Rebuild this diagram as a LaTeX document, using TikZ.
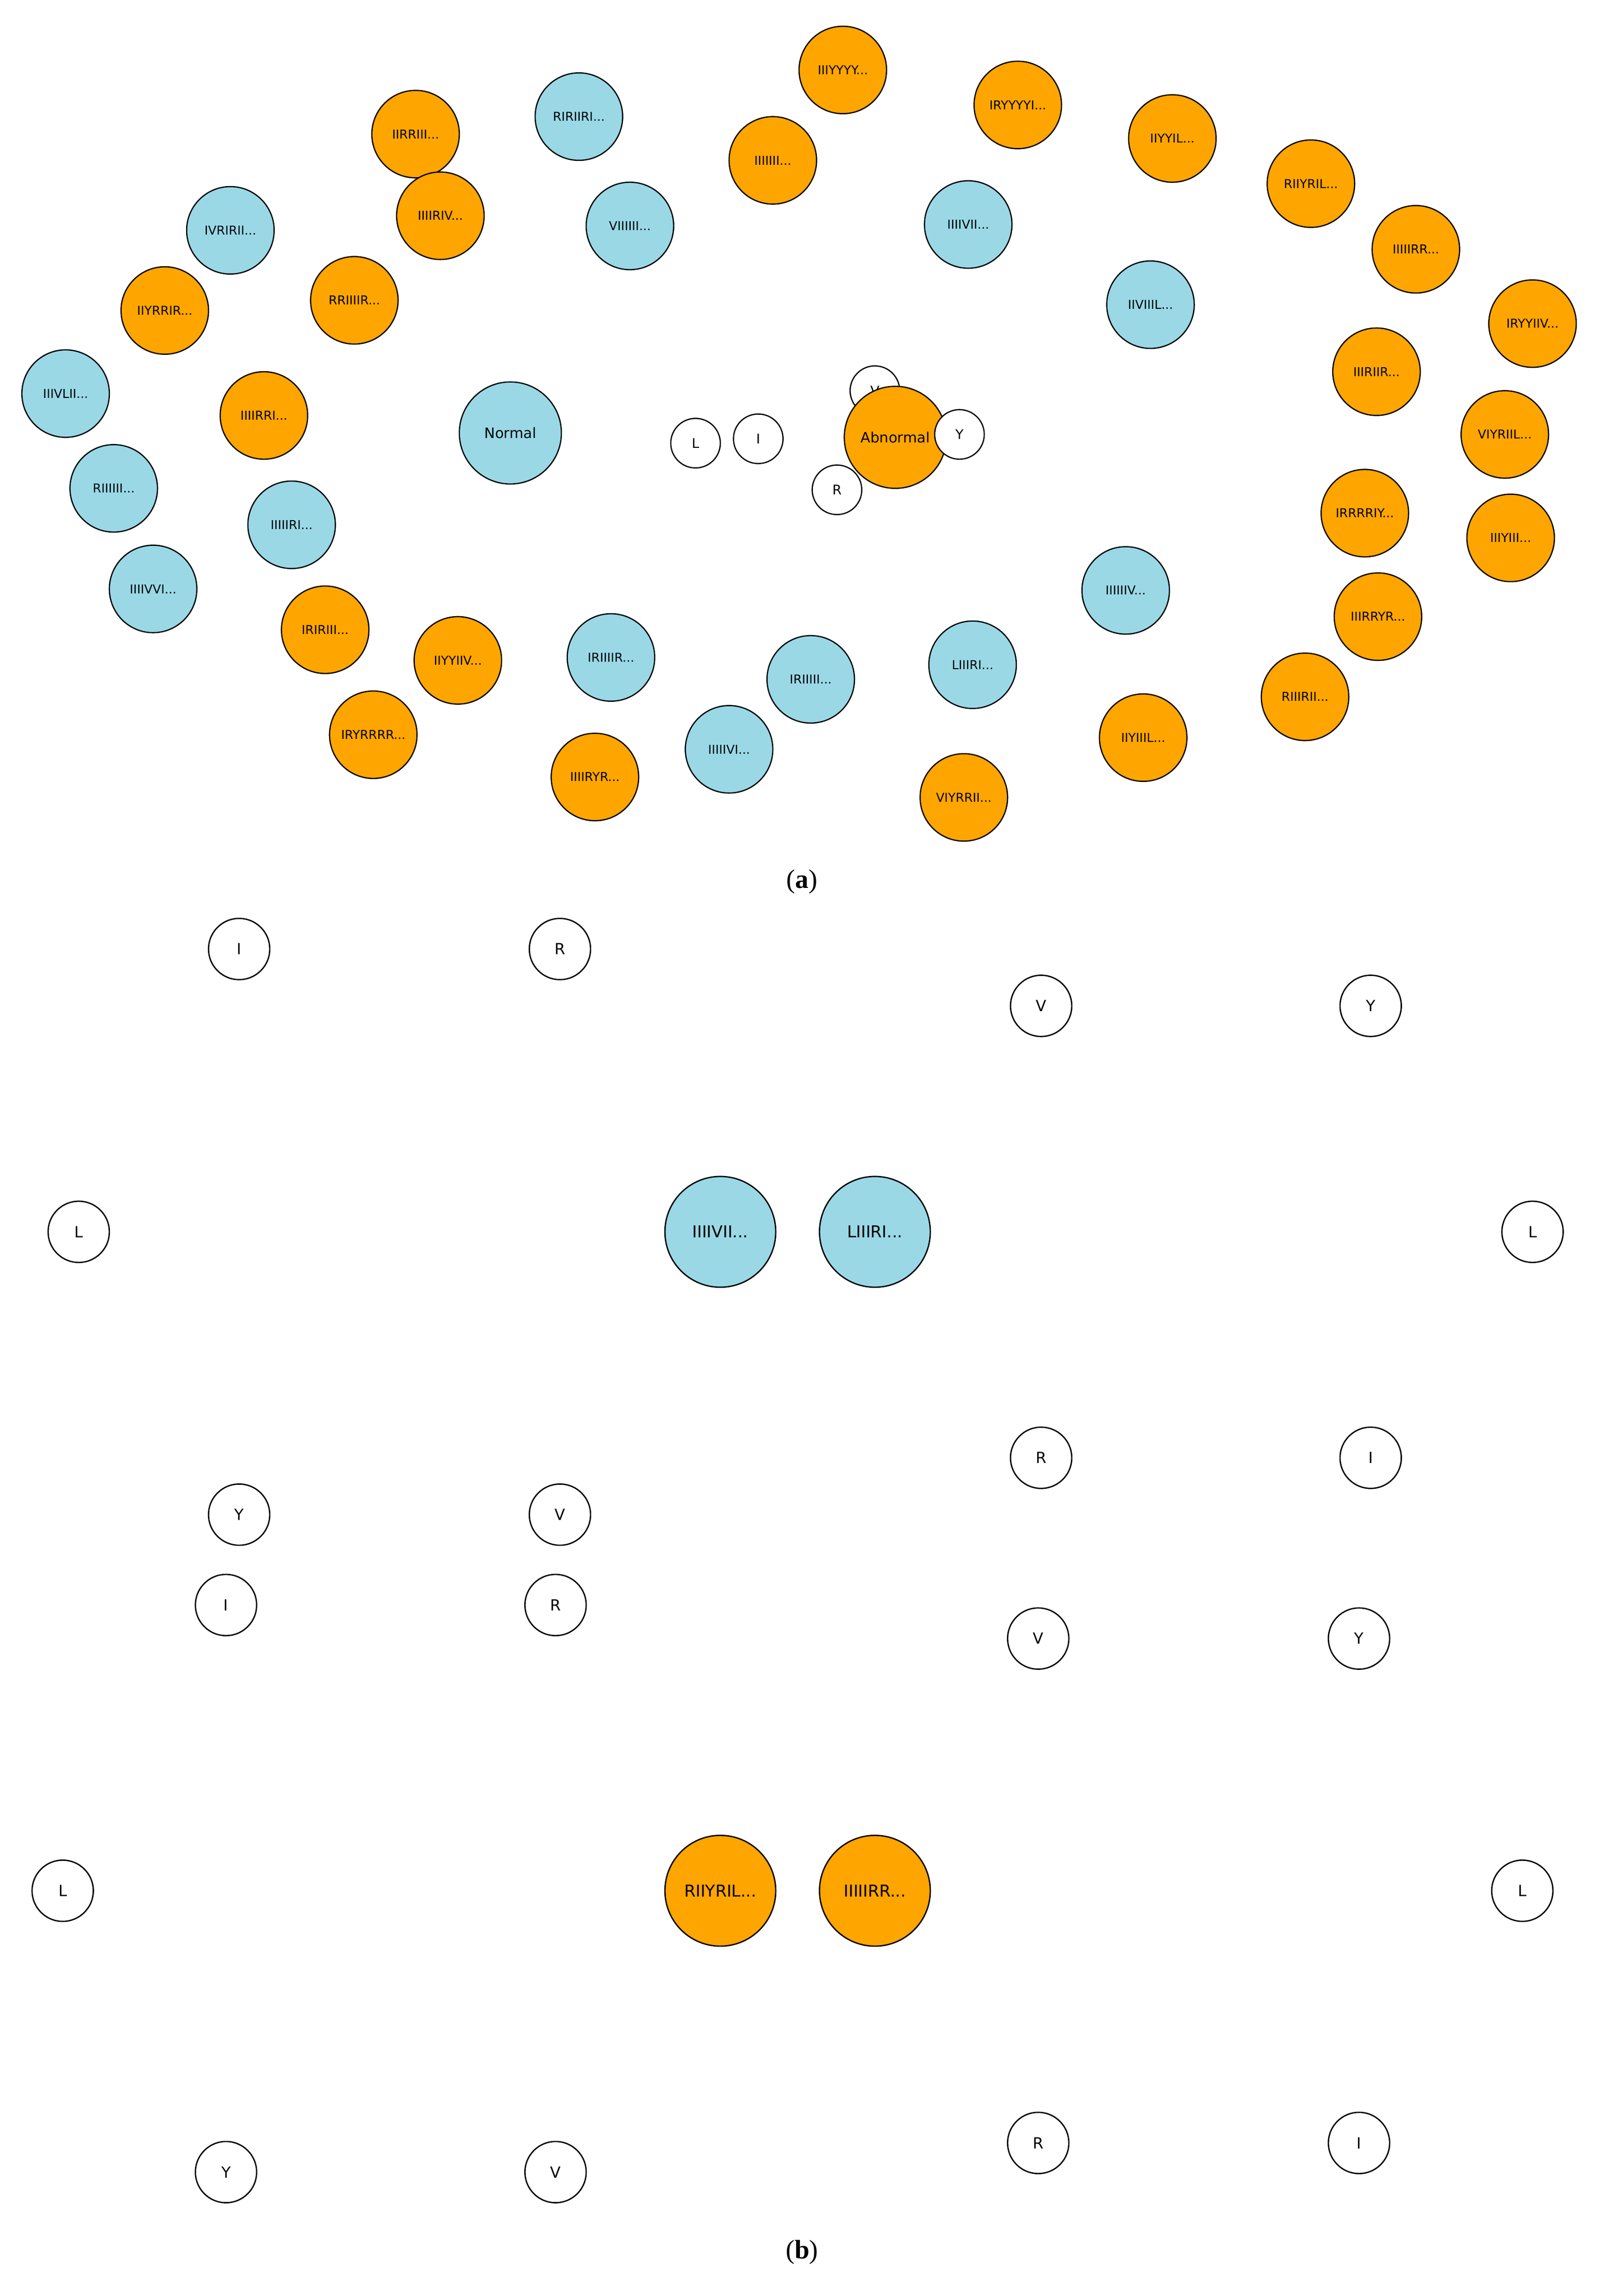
\documentclass[tikz,border=0pt]{standalone}
\usepackage{fontspec}
\setmainfont{DejaVu Sans}
\newfontfamily\capfont{Liberation Serif}
\usetikzlibrary{backgrounds}
\definecolor{nb}{HTML}{9AD8E6}
\definecolor{no}{HTML}{FFA500}
\newcommand\el{...}
\begin{document}
\begin{tikzpicture}[x=0.05cm,y=-0.05cm,
  per/.style={circle,draw,line width=1.2pt,minimum size=3cm,inner sep=0pt,font=\fontsize{12pt}{14pt}\selectfont},
  big/.style={circle,draw,line width=1.2pt,minimum size=3.5cm,inner sep=0pt,font=\fontsize{14pt}{16pt}\selectfont},
  hub/.style={circle,draw,fill=white,line width=1.2pt,minimum size=1.7cm,inner sep=0pt,font=\fontsize{13pt}{15pt}\selectfont},
  ctr/.style={circle,draw,line width=1.3pt,minimum size=3.8cm,inner sep=0pt,font=\fontsize{16pt}{18pt}\selectfont},
  sat/.style={circle,draw,fill=white,line width=1.3pt,minimum size=2.1cm,inner sep=0pt,font=\fontsize{15pt}{17pt}\selectfont},
  elab/.style={fill=white,inner sep=2pt,sloped,font=\fontsize{15pt}{17pt}\selectfont},
  captxt/.style={font=\capfont\fontsize{26pt}{30pt}\selectfont}]
\useasboundingbox (0,0) rectangle (1100,1575);
\fill[white] (0,0) rectangle (1100,1575);
% ---------------- (a) ----------------
\foreach \n/\x/\y/\t/\c/\a/\b/\v/\w/\r in {
 o1/285/92/IIRRIII\el/no/1.2/4/1.2/2/3,
 o2/302/148/IIIIRIV\el/no/1.5/5/1.2/3/2,
 o3/113/213/IIYRRIR\el/no/2/5/1.2/3/2,
 o4/243/206/RRIIIIR\el/no/2/6/1.2/3/2,
 o5/181/285/IIIIRRI\el/no/3/7/1.5/3/2,
 o6/223/432/IRIRIII\el/no/1.2/4/1.2/2/2,
 o7/314/453/IIYYIIV\el/no/1.2/5/2/3/1.2,
 o8/256/504/IRYRRRR\el/no/1.2/4/1.2/2/1.2,
 o9/408/533/IIIIRYR\el/no/1.2/5/1.2/2/3,
 o10/530/110/IIIIIII\el/no/1.2/3/1.2/2/1.2,
 o11/578/48/IIIYYYY\el/no/1.2/5/1.2/1.2/1.2,
 o12/698/72/IRYYYYI\el/no/1.2/4/3/1.2/1.2,
 o13/804/95/IIYYIL\el/no/1.2/5/3/1.2/1.2,
 o14/899/126/RIIYRIL\el/no/1.2/5/2/1.2/1.5,
 o15/971/171/IIIIIRR\el/no/1.2/5/2/1.2/1.5,
 o16/1051/222/IRYYIIV\el/no/1.2/5/3/2/1.2,
 o17/944/255/IIIRIIR\el/no/1.2/5/3/2/1.5,
 o18/1032/298/VIYRIIL\el/no/1.2/6/1.2/2/1.2,
 o19/936/352/IRRRRIY\el/no/1.2/6/1.2/3/2,
 o20/1036/369/IIIYIII\el/no/1.2/5/1.2/2/2,
 o21/945/423/IIIRRYR\el/no/1.2/5/1.2/2/3,
 o22/895/478/RIIIRII\el/no/1.2/5/1.2/1.2/3,
 o23/784/506/IIYIIIL\el/no/1.2/4/1.2/1.2/3,
 o24/661/547/VIYRRII\el/no/1.2/4/1.2/1.2/3,
 b1/397/80/RIRIIRI\el/nb/1.5/4/1.2/1.2/1.2,
 b2/432/155/VIIIIII\el/nb/2/6/1.2/1.2/1.2,
 b3/158/158/IVRIRII\el/nb/3/6/1.2/1.2/1.2,
 b4/45/270/IIIVLII\el/nb/4/7/1.2/1.2/1.2,
 b5/78/335/RIIIIII\el/nb/4/7/1.2/1.2/1.2,
 b6/200/360/IIIIIRI\el/nb/3/6/1.2/1.2/1.2,
 b7/105/404/IIIIVVI\el/nb/3/6/1.2/1.2/1.2,
 b8/419/451/IRIIIIR\el/nb/2/5/1.2/1.2/1.2,
 b9/500/514/IIIIIVI\el/nb/2/7/1.2/1.2/1.2,
 b10/556/466/IRIIIII\el/nb/1.2/5/1.2/1.2/2,
 b11/667/456/LIIIRI\el/nb/1.2/5/1.2/1.2/3,
 b12/772/405/IIIIIIV\el/nb/1.2/5/1.2/2/3,
 b13/789/209/IIVIIIL\el/nb/1.2/5/1.2/2/2,
 b14/664/154/IIIIVII\el/nb/1.2/5/1.2/2/2}
{
 \node[per,fill=\c] (\n) at (\x,\y) {\t};
 \begin{scope}[on background layer]
  \draw[line width=\a pt] (\n) -- (477,304);
  \draw[line width=\b pt] (\n) -- (520,301);
  \draw[line width=\v pt] (\n) -- (600,268);
  \draw[line width=\w pt] (\n) -- (658,298);
  \draw[line width=\r pt] (\n) -- (574,336);
 \end{scope}
}
\node[big,fill=nb] (normal) at (350,297) {Normal};
\node[hub] (V) at (600,268) {V};
\node[hub] (L) at (477,304) {L};
\node[hub] (I) at (520,301) {I};
\node[hub] (R) at (574,336) {R};
\node[big,fill=no] (abn) at (614,300) {Abnormal};
\node[hub] (Y) at (658,298) {Y};
\node[captxt] (capa) at (550,605) {(\textbf{a})};
% ---------------- (b) ----------------
\node[ctr,fill=nb] (c1) at (494,845) {IIIIVII...};
\node[sat] (c1I) at (164,651) {I};
\node[sat] (c1R) at (384,651) {R};
\node[sat] (c1L) at (54,845) {L};
\node[sat] (c1Y) at (164,1039) {Y};
\node[sat] (c1V) at (384,1039) {V};
\begin{scope}[on background layer]
\draw[line width=13.8pt] (c1) -- node[elab]{83.44} (c1I);
\draw[line width=1.4pt] (c1) -- node[elab]{7.95} (c1R);
\draw[line width=1.4pt] (c1) -- node[elab]{0.00} (c1L);
\draw[line width=1.4pt] (c1) -- node[elab]{1.32} (c1Y);
\draw[line width=1.4pt] (c1) -- node[elab]{7.28} (c1V);
\end{scope}
\node[ctr,fill=nb] (c2) at (600,845) {LIIIRI...};
\node[sat] (c2V) at (714,690) {V};
\node[sat] (c2Y) at (940,690) {Y};
\node[sat] (c2L) at (1051,845) {L};
\node[sat] (c2R) at (714,1000) {R};
\node[sat] (c2I) at (940,1000) {I};
\begin{scope}[on background layer]
\draw[line width=1.4pt] (c2) -- node[elab]{7.28} (c2V);
\draw[line width=1.4pt] (c2) -- node[elab]{0.00} (c2Y);
\draw[line width=1.4pt] (c2) -- node[elab]{0.66} (c2L);
\draw[line width=1.4pt] (c2) -- node[elab]{7.28} (c2R);
\draw[line width=14pt] (c2) -- node[elab]{84.77} (c2I);
\end{scope}
\node[ctr,fill=no] (c3) at (494,1297) {RIIYRIL...};
\node[sat] (c3I) at (155,1101) {I};
\node[sat] (c3R) at (381,1101) {R};
\node[sat] (c3L) at (43,1297) {L};
\node[sat] (c3Y) at (155,1490) {Y};
\node[sat] (c3V) at (381,1490) {V};
\begin{scope}[on background layer]
\draw[line width=8.4pt] (c3) -- node[elab]{50.99} (c3I);
\draw[line width=2.2pt] (c3) -- node[elab]{13.25} (c3R);
\draw[line width=1.4pt] (c3) -- node[elab]{8.61} (c3L);
\draw[line width=2pt] (c3) -- node[elab]{11.92} (c3Y);
\draw[line width=2.5pt] (c3) -- node[elab]{15.23} (c3V);
\end{scope}
\node[ctr,fill=no] (c4) at (600,1297) {IIIIIRR...};
\node[sat] (c4V) at (712,1124) {V};
\node[sat] (c4Y) at (932,1124) {Y};
\node[sat] (c4L) at (1044,1297) {L};
\node[sat] (c4R) at (712,1470) {R};
\node[sat] (c4I) at (932,1470) {I};
\begin{scope}[on background layer]
\draw[line width=2.8pt] (c4) -- node[elab]{17.22} (c4V);
\draw[line width=1.4pt] (c4) -- node[elab]{8.61} (c4Y);
\draw[line width=1.9pt] (c4) -- node[elab]{11.26} (c4L);
\draw[line width=2.3pt] (c4) -- node[elab]{13.91} (c4R);
\draw[line width=8.1pt] (c4) -- node[elab]{49.01} (c4I);
\end{scope}
\node[captxt] (capb) at (550,1545) {(\textbf{b})};
\end{tikzpicture}
\end{document}
